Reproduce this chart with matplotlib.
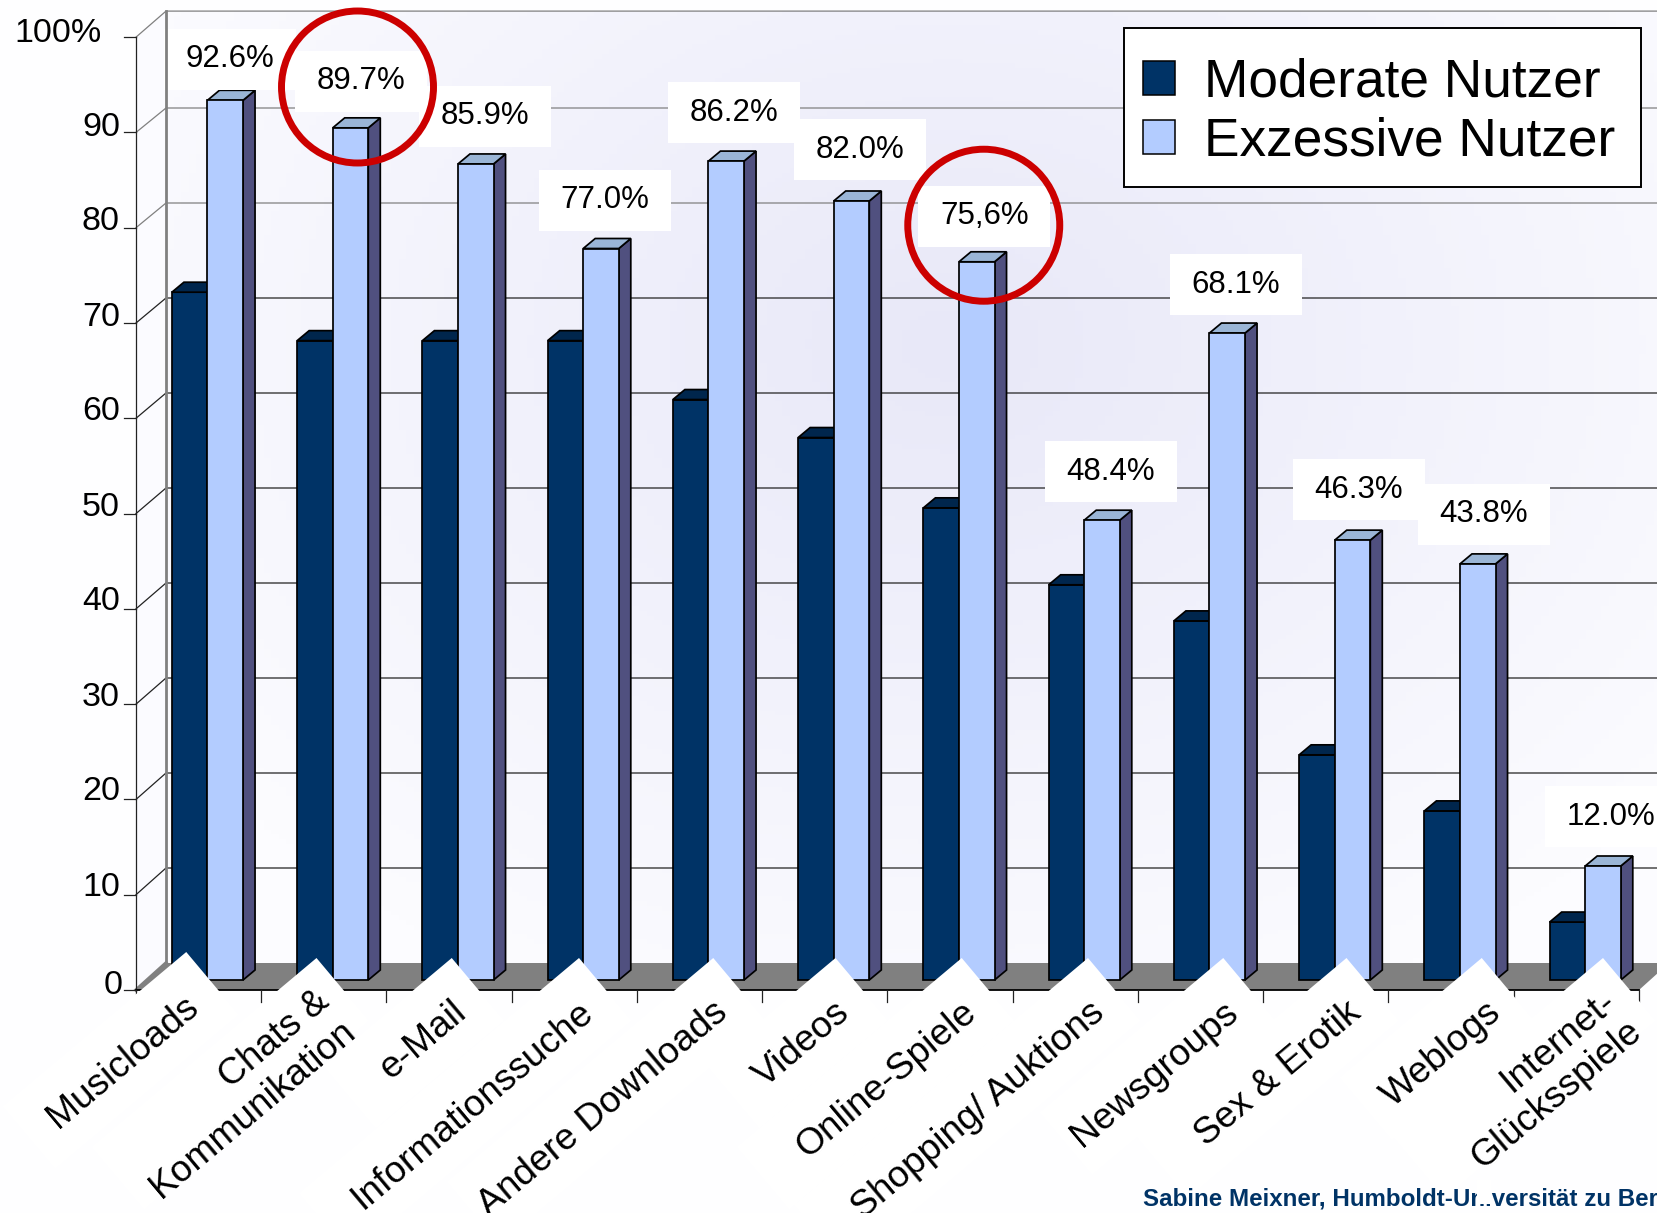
import numpy as np
import matplotlib
matplotlib.use("Agg")
import matplotlib.pyplot as plt
from matplotlib.patches import Ellipse, Patch, Rectangle, Polygon
from matplotlib.transforms import Affine2D

categories = ["Musicloads", "Chats &\nKommunikation", "e-Mail", "Informationssuche",
              "Andere Downloads", "Videos", "Online-Spiele", "Shopping/ Auktions",
              "Newsgroups", "Sex & Erotik", "Weblogs", "Internet-\nGlücksspiele"]
moderate = [72.4, 67.3, 67.3, 67.3, 61.1, 57.1, 49.7, 41.6, 37.8, 23.7, 17.8, 6.1]
exzessiv = [92.6, 89.7, 85.9, 77.0, 86.2, 82.0, 75.6, 48.4, 68.1, 46.3, 43.8, 12.0]
value_labels = ["92.6%", "89.7%", "85.9%", "77.0%", "86.2%", "82.0%", "75,6%",
                "48.4%", "68.1%", "46.3%", "43.8%", "12.0%"]
y_ticks = [0, 10, 20, 30, 40, 50, 60, 70, 80, 90, 100]
y_tick_labels = ["0", "10", "20", "30", "40", "50", "60", "70", "80", "90", "100%"]
circled = [1, 6]

# layout: pixel scale of the data axes
W, H = 1657, 1213
XU, YU = 125.25, 9.5    # px per category, px per percent
X0, Y0 = 198.7, 990     # px of category 0 / value 0

plt.rcParams["font.family"] = ["Liberation Sans", "DejaVu Sans"]
fig = plt.figure(figsize=(W / 100, H / 100), dpi=100, facecolor="#fefeff")
ax = fig.add_axes([0, 0, 1, 1])

BW = 0.284
wall_dx, wall_dy = 30 / XU, 27 / YU
bar_off, bar_base = 0.07, 10 / YU
side_dx, side_dy = 12 / XU, 10 / YU
tick_scale = 1.003      # front axis runs a touch longer than the back wall
n = len(categories)
left = (136 - X0) / XU
right = left + n
wall_top = 100.2

# back wall gradient
gx, gy = np.meshgrid(np.linspace(0, 1, 200), np.linspace(0, 1, 200))
dist = np.clip(np.hypot((gx - 0.52) / 0.62, (gy - 0.65) / 0.75), 0, 1)
c0 = np.array([232, 232, 248]) / 255
c1 = np.array([252, 252, 255]) / 255
grad = c0 + (c1 - c0) * dist[..., None]
ax.imshow(grad, extent=[left + wall_dx, right + wall_dx, wall_dy, wall_top + wall_dy],
          origin="lower", aspect="auto", zorder=0)

# side wall and floor
ax.add_patch(Polygon([(left, 0), (left + wall_dx, wall_dy), (left + wall_dx, wall_top + wall_dy), (left, 100 * tick_scale)],
                     closed=True, fc="#fbfbff", ec="none", zorder=1))
ax.add_patch(Polygon([(left, 0), (left + wall_dx, wall_dy), (right + wall_dx, wall_dy), (right, 0)],
                     closed=True, fc="#808080", ec="none", zorder=1))

# grid lines
for v in y_ticks[1:]:
    col = "#808080" if v >= 80 else "#222222"
    back = wall_top if v == 100 else v
    ax.plot([left, left + wall_dx, right + wall_dx], [v * tick_scale, back + wall_dy, back + wall_dy],
            color=col, lw=0.9, zorder=2)
ax.plot([left, left + wall_dx], [0, wall_dy], color="#808080", lw=2.5, zorder=2)
# wall edge stays visible past the first value box
ax.plot([left + wall_dx, left + wall_dx], [wall_dy, wall_top + wall_dy], color="#808080", lw=2, zorder=6.6)
ax.plot([left, left], [0, 100 * tick_scale], color="#222222", lw=0.9, zorder=2)
ax.plot([left, right], [0, 0], color="black", lw=1.3, zorder=2)
for v in y_ticks:
    ax.plot([left - 12 / XU, left], [v * tick_scale, v * tick_scale], color="#222222", lw=0.9, zorder=2)
for i in range(n + 1):
    ax.plot([left + i, left + i], [0, -12 / YU], color="#222222", lw=0.9, zorder=2)

# bars
for i in range(n):
    c = i + bar_off
    ax.bar(c - BW, moderate[i], BW, bottom=bar_base, align="edge", color="#003366", ec="black", lw=1.25, zorder=3)
    t = moderate[i] + bar_base
    ax.add_patch(Polygon([(c - BW, t), (c - BW + side_dx, t + side_dy), (c + side_dx, t + side_dy), (c, t)],
                         closed=True, fc="#00264d", ec="black", lw=1.25, zorder=3))
    t = exzessiv[i] + bar_base
    ax.add_patch(Polygon([(c + BW, bar_base), (c + BW + side_dx, bar_base + side_dy), (c + BW + side_dx, t + side_dy), (c + BW, t)],
                         closed=True, fc="#50507f", ec="black", lw=1.25, zorder=4))
    ax.add_patch(Polygon([(c, t), (c + side_dx, t + side_dy), (c + BW + side_dx, t + side_dy), (c + BW, t)],
                         closed=True, fc="#9ab5d6", ec="black", lw=1.25, zorder=4))
    ax.bar(c, exzessiv[i], BW, bottom=bar_base, align="edge", color="#b3ccff", ec="black", lw=1.25, zorder=4)

ax.set_xlim(-X0 / XU, (W - X0) / XU)
ax.set_ylim((Y0 - H) / YU, Y0 / YU)
ax.axis("off")

# value labels with white boxes
label_dy = [4.3, 4.9, 5.0, 5.1, 5.1, 5.4, 4.8, 5.1, 5.1, 5.3, 5.2, 5.2]
label_dx = [0.04, 0.08, 0.07, 0.03, 0.06, 0.07, 0.06, 0.07, 0.07, 0.05, 0.05, 0.06]
box_w, box_h = 132 / XU, 61 / YU
for i in range(n):
    lx = i + bar_off + BW / 2 + label_dx[i]
    ly = exzessiv[i] + bar_base + label_dy[i]
    ax.add_patch(Rectangle((lx - box_w / 2, ly - box_h / 2), box_w, box_h, fc="white", ec="none", zorder=6.5))
    ax.text(lx, ly, value_labels[i], ha="center", va="center", fontsize=22.5, color="black", zorder=7)

# y tick labels
for v, lab in zip(y_ticks, y_tick_labels):
    xr = 123 if v == 0 else (102 if v == 100 else 120)
    up = 4 if v == 0 else (6 if v == 100 else 8)
    ax.text((xr - X0) / XU, v + up / YU, lab, ha="right", va="center", fontsize=24.5, color="black", zorder=7)

# rotated category labels, each on a white box with its tip towards the bars
tip_shift = [-75, -70, -60, -58, -49, -52, -51, -50, -40, -42, -32, -36]
tip_y = [952, 958, 958, 958, 958, 958, 958, 958, 958, 958, 958, 958]
text_nudge = [-2, 2, 0, 0, 0, 0, 0, 2, 0, 0, 5, 2]
for i, lab in enumerate(categories):
    tick_px = 136 + XU * (i + 1)
    tx, ty = tick_px + tip_shift[i], tip_y[i]
    longest = max(len(s) for s in lab.split("\n"))
    rect_w = longest * 18 + 60
    rect_h = 82
    tr = Affine2D().rotate_deg(40).translate(tx, H - ty)
    ax.add_patch(Rectangle((-rect_w, -rect_h), rect_w, rect_h, fc="white", ec="none", transform=tr, zorder=6))
    ox, oy = (19, 54) if "\n" in lab else (10, 50)
    ax.text((tx + ox + text_nudge[i] - X0) / XU, (Y0 - ty - oy) / YU, lab, rotation=40, rotation_mode="anchor",
            ha="right", va="center", multialignment="right", fontsize=26.7, color="black", zorder=7)

# red circles
circle_dy = [4.3, 3.85]
for i, dy in zip(circled, circle_dy):
    ax.add_patch(Ellipse((i + bar_off + BW / 2 + 7 / XU, exzessiv[i] + bar_base + dy),
                         152 / XU, 152 / YU, fc="none", ec="#cc0000", lw=5, zorder=8))

# legend, frame drawn separately so its margins can differ
ax.add_patch(Rectangle(((1124 - X0) / XU, (Y0 - 187) / YU), 517 / XU, 159 / YU,
                       fc="white", ec="black", lw=1.4, zorder=8.5))
handles = [Patch(fc="#003366", ec="black", lw=1.1), Patch(fc="#b3ccff", ec="black", lw=1.1)]
leg = ax.legend(handles, ["Moderate Nutzer", "Exzessive Nutzer"], loc="upper right",
                bbox_to_anchor=(1641 / W, 1 - 32 / H), borderaxespad=0, fontsize=38.3,
                handlelength=0.6, handleheight=0.6, handletextpad=0.55, labelspacing=0.17,
                borderpad=0.48, frameon=False)
leg.set_zorder(9)

# footer
ax.text((1143 - X0) / XU, (Y0 - 1199) / YU, "Sabine Meixner, Humboldt-Universität zu Berlin",
        ha="left", va="center", fontsize=17.4, fontweight="bold", color="#003366", zorder=9)
ax.add_patch(Rectangle(((1477 - X0) / XU, (Y0 - 1204) / YU), 14 / XU, 24 / YU, fc="white", ec="none", zorder=10))

fig.savefig("out.png", dpi=100, facecolor=fig.get_facecolor())
